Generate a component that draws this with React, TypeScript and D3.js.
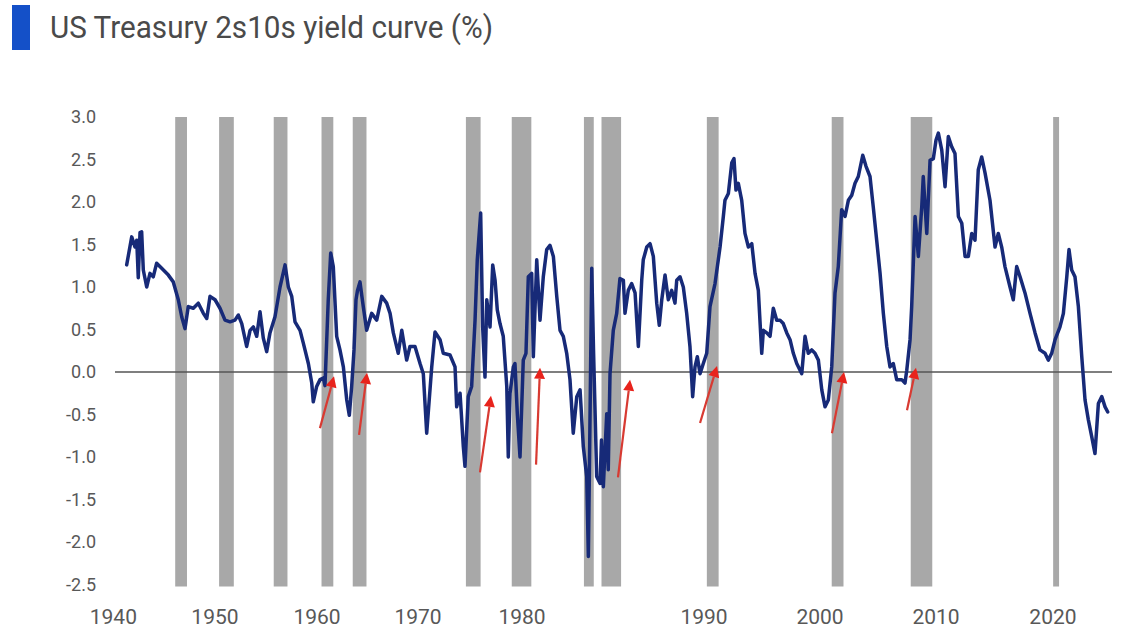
import React from "react";
import * as d3 from "d3";

const titleText = "US Treasury 2s10s yield curve (%)";

const curveYears = [
  1940.81, 1941.24, 1941.52, 1941.67, 1941.8, 1941.95, 1942.09, 1942.23, 1942.52, 1942.8,
  1943.08, 1943.37, 1943.8, 1944.37, 1944.79, 1945.22, 1945.51, 1945.79, 1946.07, 1946.5,
  1946.93, 1947.36, 1947.65, 1947.93, 1948.36, 1948.78, 1949.21, 1949.64, 1950.06, 1950.35,
  1950.64, 1951.06, 1951.35, 1951.63, 1951.92, 1952.2, 1952.48, 1952.77, 1953.05, 1953.48,
  1953.91, 1954.34, 1954.62, 1954.91, 1955.19, 1955.62, 1955.9, 1956.33, 1956.62, 1956.75,
  1957.04, 1957.33, 1957.61, 1957.75, 1958.03, 1958.24, 1958.46, 1958.75, 1959.03, 1959.32,
  1959.61, 1959.83, 1960.03, 1960.23, 1960.4, 1960.53, 1960.74, 1961.02, 1961.31, 1961.74,
  1962.17, 1962.6, 1963.02, 1963.31, 1963.59, 1964.01, 1964.31, 1964.73, 1965.01, 1965.44,
  1965.87, 1966.15, 1966.44, 1966.87, 1967.15, 1967.58, 1967.86, 1968.43, 1968.86, 1969.0,
  1969.29, 1969.57, 1969.71, 1969.99, 1970.28, 1970.57, 1970.76, 1971.05, 1971.22, 1971.42,
  1971.57, 1971.85, 1972.08, 1972.28, 1972.47, 1972.7, 1972.98, 1973.28, 1973.41, 1973.56,
  1973.84, 1973.98, 1974.18, 1974.41, 1974.69, 1974.92, 1975.12, 1975.41, 1975.55, 1975.84,
  1976.12, 1976.4, 1976.69, 1976.97, 1977.26, 1977.55, 1977.83, 1978.11, 1978.4, 1978.68,
  1978.96, 1979.26, 1979.54, 1979.82, 1980.11, 1980.25, 1980.33, 1980.54, 1980.69, 1980.82,
  1980.96, 1981.25, 1981.37, 1981.53, 1981.82, 1981.95, 1982.1, 1982.38, 1982.67, 1982.95,
  1983.24, 1983.38, 1983.66, 1983.95, 1984.24, 1984.52, 1984.81, 1984.94, 1985.24, 1985.52,
  1985.8, 1986.09, 1986.31, 1986.52, 1986.8, 1987.08, 1987.37, 1987.65, 1987.8, 1988.08,
  1988.36, 1988.65, 1988.93, 1989.16, 1989.36, 1989.56, 1989.79, 1990.07, 1990.36, 1990.64,
  1991.07, 1991.5, 1991.78, 1991.92, 1992.21, 1992.5, 1992.69, 1992.86, 1993.06, 1993.35,
  1993.63, 1993.92, 1994.21, 1994.49, 1994.77, 1995.06, 1995.2, 1995.49, 1995.77, 1996.05,
  1996.34, 1996.62, 1996.9, 1997.2, 1997.48, 1997.76, 1998.05, 1998.48, 1998.76, 1999.04,
  1999.33, 1999.61, 1999.9, 2000.19, 2000.47, 2000.75, 2001.04, 2001.32, 2001.6, 2001.89,
  2002.18, 2002.46, 2002.75, 2003.03, 2003.31, 2003.69, 2003.97, 2004.31, 2004.59, 2004.88,
  2005.17, 2005.45, 2005.74, 2006.02, 2006.3, 2006.59, 2007.02, 2007.3, 2007.45, 2007.73,
  2007.87, 2008.16, 2008.44, 2008.73, 2008.86, 2009.16, 2009.44, 2009.72, 2009.95, 2010.15,
  2010.44, 2010.72, 2011.0, 2011.29, 2011.57, 2011.86, 2012.15, 2012.43, 2012.71, 2013.0,
  2013.28, 2013.56, 2013.85, 2014.14, 2014.56, 2014.99, 2015.27, 2015.56, 2015.84, 2016.27,
  2016.55, 2016.84, 2017.13, 2017.55, 2017.98, 2018.41, 2018.83, 2019.26, 2019.54, 2019.83,
  2020.12, 2020.54, 2020.83, 2021.12, 2021.31, 2021.54, 2021.82, 2022.11, 2022.4, 2022.68,
  2022.96, 2023.25, 2023.53, 2023.82, 2024.11, 2024.39, 2024.62,
];

const curveValues = [
  1.26, 1.59, 1.47, 1.55, 1.11, 1.64, 1.65, 1.2, 1.0, 1.16,
  1.12, 1.28, 1.22, 1.14, 1.06, 0.85, 0.65, 0.51, 0.77, 0.75,
  0.81, 0.69, 0.63, 0.89, 0.85, 0.75, 0.61, 0.59, 0.61, 0.67,
  0.57, 0.3, 0.49, 0.53, 0.42, 0.71, 0.4, 0.24, 0.46, 0.65,
  1.0, 1.26, 1.0, 0.89, 0.59, 0.49, 0.34, 0.1, -0.13, -0.35,
  -0.17, -0.09, -0.07, -0.16, 0.85, 1.4, 1.24, 0.42, 0.26, 0.06,
  -0.33, -0.51, -0.17, 0.26, 0.85, 0.96, 1.06, 0.77, 0.49, 0.69,
  0.61, 0.89, 0.81, 0.69, 0.46, 0.22, 0.49, 0.14, 0.3, 0.3,
  0.1, -0.02, -0.72, 0.06, 0.47, 0.38, 0.22, 0.2, 0.06, -0.41,
  -0.25, -0.88, -1.11, -0.29, -0.17, 0.61, 1.32, 1.87, 0.53, -0.06,
  0.85, 0.53, 1.26, 1.08, 0.73, 0.57, 0.42, -0.17, -1.0, -0.25,
  0.06, 0.1, -0.49, -1.0, 0.14, 0.22, 1.12, 1.16, 0.18, 1.32,
  0.61, 1.12, 1.44, 1.49, 1.36, 0.89, 0.49, 0.42, 0.22, -0.09,
  -0.72, -0.29, -0.21, -0.88, -1.23, -2.17, -1.27, 1.22, 0.26, -0.45,
  -1.23, -1.31, -0.8, -1.35, -0.49, -1.15, -0.02, 0.49, 0.69, 1.1,
  1.08, 0.69, 0.96, 1.04, 0.93, 0.3, 1.08, 1.32, 1.47, 1.51,
  1.36, 0.81, 0.55, 0.85, 1.14, 0.85, 0.96, 0.81, 1.08, 1.12,
  1.0, 0.69, 0.3, -0.29, 0.06, 0.18, -0.02, 0.1, 0.22, 0.77,
  1.04, 1.47, 1.83, 2.02, 2.1, 2.46, 2.51, 2.14, 2.22, 2.02,
  1.63, 1.47, 1.51, 1.16, 0.96, 0.22, 0.49, 0.46, 0.42, 0.75,
  0.61, 0.61, 0.57, 0.46, 0.38, 0.22, 0.1, -0.02, 0.42, 0.22,
  0.26, 0.22, 0.14, -0.21, -0.41, -0.33, 0.06, 0.93, 1.24, 1.91,
  1.83, 2.02, 2.08, 2.22, 2.3, 2.55, 2.42, 2.3, 1.94, 1.55,
  1.16, 0.69, 0.3, 0.06, 0.1, -0.09, -0.09, -0.13, 0.02, 0.38,
  0.77, 1.83, 1.36, 1.94, 2.3, 1.63, 2.49, 2.51, 2.73, 2.81,
  2.61, 2.18, 2.77, 2.65, 2.57, 1.83, 1.75, 1.36, 1.36, 1.63,
  1.55, 2.38, 2.53, 2.34, 2.02, 1.47, 1.63, 1.47, 1.24, 1.0,
  0.85, 1.24, 1.12, 0.93, 0.69, 0.46, 0.26, 0.22, 0.14, 0.22,
  0.38, 0.53, 0.69, 1.12, 1.44, 1.2, 1.12, 0.77, 0.18, -0.33,
  -0.56, -0.76, -0.96, -0.37, -0.29, -0.41, -0.47,
];

// NBER recessions (start / end as fractional years)
const recessionStart = [1945.083, 1948.833, 1953.5, 1957.583, 1960.25, 1969.917, 1973.833, 1980.0, 1981.5, 1990.5, 2001.167, 2007.917, 2020.083];
const recessionEnd = [1945.833, 1949.833, 1954.417, 1958.333, 1961.167, 1970.917, 1975.25, 1980.583, 1982.917, 1991.25, 2001.917, 2009.5, 2020.333];

// Red arrows: tail and tip (year, value)
const arrowTailYear = [1957.32, 1960.66, 1970.99, 1975.78, 1982.78, 1989.79, 2001.06, 2007.47];
const arrowTailValue = [-0.66, -0.74, -1.18, -1.09, -1.24, -0.6, -0.72, -0.45];
const arrowTipYear = [1958.52, 1961.34, 1971.93, 1976.12, 1983.81, 1991.24, 2002.09, 2008.24];
const arrowTipValue = [-0.05, -0.01, -0.28, 0.05, -0.09, 0.07, 0.0, 0.05];

const yTicks = [3.0, 2.5, 2.0, 1.5, 1.0, 0.5, 0.0, -0.5, -1.0, -1.5, -2.0, -2.5];
const xTickLabels = ["1940", "1950", "1960", "1970", "1980", "1990", "2000", "2010", "2020"];
// where the original chart actually placed each label along the time axis
const xTickLabelAt = [1939.67, 1948.35, 1957.07, 1965.7, 1974.58, 1990.13, 2000.04, 2009.95, 2019.94];

const W = 1124;
const H = 629;
const FONT = "Roboto, 'Noto Sans', sans-serif";

export default function App() {
  const x = d3.scaleLinear().domain([1940, 2025]).range([117.2, 1112.2]);
  const y = d3.scaleLinear().domain([-2.5, 3.0]).range([584.5, 117]);

  const pts: [number, number][] = curveYears.map((yr, i) => [yr, curveValues[i]]);
  const line = d3
    .line<[number, number]>()
    .x((d) => x(d[0]))
    .y((d) => y(d[1]))
    .curve(d3.curveLinear);

  const arrows = arrowTipYear.map((_, i) => {
    const x1 = x(arrowTailYear[i]);
    const y1 = y(arrowTailValue[i]);
    const x2 = x(arrowTipYear[i]);
    const y2 = y(arrowTipValue[i]);
    const ang = Math.atan2(y2 - y1, x2 - x1);
    const headLen = 11;
    const headHalf = 5.5;
    const bx = x2 - headLen * Math.cos(ang);
    const by = y2 - headLen * Math.sin(ang);
    const px = -Math.sin(ang) * headHalf;
    const py = Math.cos(ang) * headHalf;
    return {
      x1,
      y1,
      bx,
      by,
      head: `${x2},${y2} ${bx + px},${by + py} ${bx - px},${by - py}`,
    };
  });

  return (
    <svg
      width={W}
      height={H}
      style={{ position: "absolute", left: 0, top: 0, background: "#ffffff" }}
      xmlns="http://www.w3.org/2000/svg"
    >
      <rect x={0} y={0} width={W} height={H} fill="#ffffff" />
      {/* title */}
      <rect x={12} y={5} width={18} height={45} fill="#1450c8" />
      <text
        x={50}
        y={38}
        fontFamily={FONT}
        fontSize={31}
        fill="#4a4a4a"
        textLength={443}
        lengthAdjust="spacingAndGlyphs"
      >
        {titleText}
      </text>

      {/* recession bars */}
      {recessionStart.map((s, i) => (
        <rect
          key={"r" + i}
          x={x(s) - 1.5}
          y={y(3.0)}
          width={x(recessionEnd[i]) - x(s) + 3}
          height={y(-2.5) - y(3.0) + 2}
          fill="#a8a8a8"
        />
      ))}

      {/* zero line */}
      <line x1={115} x2={1112} y1={y(0)} y2={y(0)} stroke="#555555" strokeWidth={1.6} />

      {/* y tick labels */}
      {yTicks.map((t) => (
        <text
          key={"y" + t}
          x={96}
          y={y(t)}
          dy="0.35em"
          textAnchor="end"
          fontFamily={FONT}
          fontSize={18}
          fill="#585858"
        >
          {t.toFixed(1)}
        </text>
      ))}

      {/* x tick labels */}
      {xTickLabels.map((lab, i) => (
        <text
          key={"x" + lab}
          x={x(xTickLabelAt[i])}
          y={624}
          textAnchor="middle"
          fontFamily={FONT}
          fontSize={21}
          fill="#585858"
        >
          {lab}
        </text>
      ))}

      {/* yield curve */}
      <path
        d={line(pts) || ""}
        fill="none"
        stroke="#172a78"
        strokeWidth={3.5}
        strokeLinejoin="round"
        strokeLinecap="round"
      />

      {/* arrows */}
      {arrows.map((a, i) => (
        <g key={"a" + i}>
          <line x1={a.x1} y1={a.y1} x2={a.bx} y2={a.by} stroke="#d83a32" strokeWidth={2.2} />
          <polygon points={a.head} fill="#e8231c" />
        </g>
      ))}
    </svg>
  );
}
